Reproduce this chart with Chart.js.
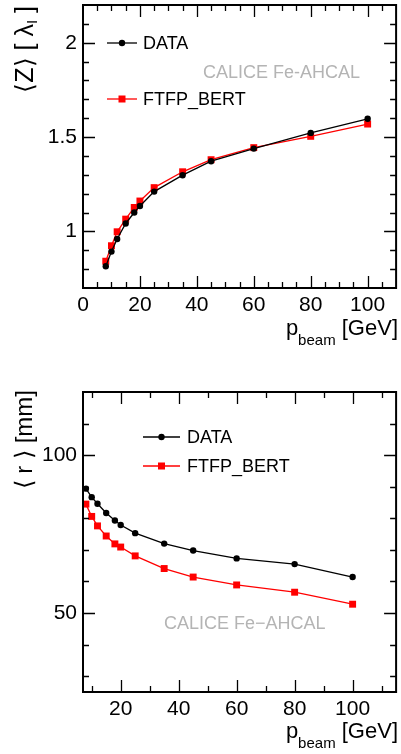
<!DOCTYPE html>
<html>
<head>
<meta charset="utf-8">
<script src="https://cdn.jsdelivr.net/npm/chart.js@4.4.0/dist/chart.umd.min.js"></script>
<style>
  body { margin: 0; background: #fff; }
  .panel { position: absolute; left: 0; width: 401px; height: 377px; }
</style>
</head>
<body>
<div class="panel" style="top:0"><canvas id="zChart" width="401" height="377"></canvas></div>
<div class="panel" style="top:377px"><canvas id="rChart" width="401" height="377"></canvas></div>
<script>
// beam momenta [GeV]
const beamEnergies = [8, 10, 12, 15, 18, 20, 25, 35, 45, 60, 80, 100];

// mean longitudinal depth <Z> [lambda_I]
const zData = [0.815, 0.893, 0.96, 1.042, 1.10, 1.135, 1.211, 1.298, 1.372, 1.439, 1.522, 1.597];
const zSim  = [0.842, 0.924, 0.998, 1.065, 1.127, 1.161, 1.232, 1.316, 1.380, 1.444, 1.504, 1.569];

// mean radius <r> [mm]
const rData = [89.4, 86.7, 84.6, 81.7, 79.3, 77.9, 75.3, 72.0, 69.8, 67.3, 65.5, 61.4];
const rSim  = [84.5, 80.6, 77.6, 74.4, 71.9, 70.9, 68.1, 64.1, 61.4, 58.9, 56.6, 52.8];

// tick labels
const zYTicks = [1, 1.5, 2];
const zXTicks = [0, 20, 40, 60, 80, 100];
const rYTicks = [50, 100];
const rXTicks = [20, 40, 60, 80, 100];

const FONT = '"Liberation Sans", Arial, Helvetica, sans-serif';

function range(from, to, step) {
  const out = [];
  for (let v = from; v <= to + 1e-9; v += step) out.push(Math.round(v * 1000) / 1000);
  return out;
}

function pts(ys) {
  return beamEnergies.map((x, i) => ({x: x, y: ys[i]}));
}

// ROOT style frame with ticks on the inside of all four sides
const frameTicks = {
  id: 'frameTicks',
  afterDraw(chart, args, o) {
    const {ctx, chartArea: a, scales: {x, y}} = chart;
    ctx.save();
    ctx.strokeStyle = '#000';
    ctx.lineWidth = 1.3;
    ctx.beginPath();
    o.xMinor.forEach(v => {
      const len = o.xMajor.includes(v) ? 12 : 6;
      const px = Math.round(x.getPixelForValue(v)) + 0.5;
      if (px <= a.left + 1 || px >= a.right - 1) return;
      ctx.moveTo(px, a.bottom); ctx.lineTo(px, a.bottom - len);
      ctx.moveTo(px, a.top); ctx.lineTo(px, a.top + len);
    });
    o.yMinor.forEach(v => {
      const len = o.yMajor.includes(v) ? 12 : 6;
      const py = Math.round(y.getPixelForValue(v)) + 0.5;
      if (py <= a.top + 1 || py >= a.bottom - 1) return;
      ctx.moveTo(a.left, py); ctx.lineTo(a.left + len, py);
      ctx.moveTo(a.right, py); ctx.lineTo(a.right - len, py);
    });
    ctx.stroke();
    ctx.lineWidth = 2;
    ctx.strokeRect(a.left, a.top, a.right - a.left, a.bottom - a.top);
    ctx.restore();
  }
};

// axis titles, legend and the CALICE label
const decorations = {
  id: 'decorations',
  afterDraw(chart, args, o) {
    const ctx = chart.ctx;
    ctx.save();
    ctx.fillStyle = '#000';
    ctx.textBaseline = 'alphabetic';

    // x title: p_beam [GeV], right aligned
    ctx.font = '22px ' + FONT;
    const wP = ctx.measureText('p').width;
    const wU = ctx.measureText(' [GeV]').width;
    ctx.font = '15px ' + FONT;
    const wS = ctx.measureText('beam').width;
    let xs = o.xTitle.right - (wP + wS + wU);
    ctx.font = '22px ' + FONT;
    ctx.fillText('p', xs, o.xTitle.base);
    ctx.font = '15px ' + FONT;
    ctx.fillText('beam', xs + wP, o.xTitle.base + 10);
    ctx.font = '22px ' + FONT;
    ctx.fillText(' [GeV]', xs + wP + wS, o.xTitle.base);

    // y title, rotated, ending at the top
    ctx.save();
    ctx.translate(o.yTitle.base, o.yTitle.top);
    ctx.rotate(-Math.PI / 2);
    const segs = o.yTitle.parts;
    let total = 0;
    segs.forEach(s => { ctx.font = s.size + 'px ' + FONT; s.w = ctx.measureText(s.t).width; total += s.w; });
    let cx = -total;
    segs.forEach(s => {
      ctx.font = s.size + 'px ' + FONT;
      ctx.fillText(s.t, cx, s.dy || 0);
      cx += s.w;
    });
    ctx.restore();

    // legend
    ctx.font = '18px ' + FONT;
    ctx.textBaseline = 'middle';
    chart.data.datasets.forEach((ds, i) => {
      const ly = o.legend.y[i];
      ctx.strokeStyle = ds.borderColor;
      ctx.lineWidth = ds.borderWidth;
      ctx.beginPath();
      ctx.moveTo(o.legend.x0, ly); ctx.lineTo(o.legend.x1, ly);
      ctx.stroke();
      const mx = (o.legend.x0 + o.legend.x1) / 2;
      ctx.fillStyle = ds.pointBackgroundColor;
      if (ds.pointStyle === 'rect') {
        ctx.fillRect(mx - 3.5, ly - 3.5, 7, 7);
      } else {
        ctx.beginPath(); ctx.arc(mx, ly, ds.pointRadius, 0, Math.PI * 2); ctx.fill();
      }
      ctx.fillStyle = '#000';
      ctx.fillText(ds.label, o.legend.tx, ly + 1);
    });

    // experiment label
    ctx.fillStyle = '#b4b4b4';
    ctx.fillText(o.tag.text, o.tag.x, o.tag.y);
    ctx.restore();
  }
};

function makeChart(id, dData, dSim, cfg) {
  return new Chart(document.getElementById(id), {
    type: 'scatter',
    data: {
      datasets: [
        {
          label: 'DATA', data: pts(dData), showLine: true,
          borderColor: '#000', borderWidth: 1.3,
          pointStyle: 'circle', pointRadius: 3.2,
          pointBackgroundColor: '#000', pointBorderColor: '#000', pointBorderWidth: 0
        },
        {
          label: 'FTFP_BERT', data: pts(dSim), showLine: true,
          borderColor: '#ff0000', borderWidth: 1.3,
          pointStyle: 'rect', pointRadius: 4.9,
          pointBackgroundColor: '#ff0000', pointBorderColor: '#ff0000', pointBorderWidth: 0
        }
      ]
    },
    options: {
      responsive: false,
      animation: false,
      layout: {padding: {left: 0, right: 3, top: cfg.top, bottom: 0}},
      plugins: {
        legend: {display: false},
        tooltip: {enabled: false},
        frameTicks: cfg.ticks,
        decorations: cfg.deco
      },
      scales: {
        x: {
          type: 'linear', min: cfg.xMin, max: cfg.xMax,
          afterBuildTicks: s => { s.ticks = cfg.xTicks.map(v => ({value: v})); },
          afterFit: s => {
            s.height = cfg.xHeight;
            s.paddingLeft = 0; s.paddingRight = 0;
          },
          grid: {display: false, drawTicks: false},
          border: {display: false},
          ticks: {color: '#000', font: {family: FONT, size: 21}, padding: 5, maxRotation: 0,
                  callback: v => String(v)}
        },
        y: {
          type: 'linear', min: cfg.yMin, max: cfg.yMax,
          afterBuildTicks: s => { s.ticks = cfg.yTicks.map(v => ({value: v})); },
          afterFit: s => {
            s.width = 83;
            s.paddingTop = 0; s.paddingBottom = 0;
          },
          grid: {display: false, drawTicks: false},
          border: {display: false},
          ticks: {color: '#000', font: {family: FONT, size: 21}, padding: 6,
                  callback: v => String(v)}
        }
      }
    },
    plugins: [frameTicks, decorations]
  });
}

makeChart('zChart', zData, zSim, {
  top: 5, xHeight: 89,
  xMin: 0, xMax: 110, yMin: 0.7, yMax: 2.2,
  xTicks: zXTicks, yTicks: zYTicks,
  ticks: {xMajor: zXTicks, xMinor: range(5, 105, 5), yMajor: zYTicks, yMinor: range(0.8, 2.1, 0.1)},
  deco: {
    xTitle: {right: 398, base: 335},
    yTitle: {base: 33, top: 6, parts: [
      {t: '\u27E8Z\u27E9 [ \u03BB', size: 25},
      {t: 'I', size: 15, dy: 4},
      {t: ' ]', size: 25}
    ]},
    legend: {x0: 107, x1: 137, tx: 143, y: [43, 99]},
    tag: {text: 'CALICE Fe-AHCAL', x: 203, y: 73}
  }
});

makeChart('rChart', rData, rSim, {
  top: 15, xHeight: 62,
  xMin: 7, xMax: 115, yMin: 25, yMax: 120,
  xTicks: rXTicks, yTicks: rYTicks,
  ticks: {xMajor: rXTicks, xMinor: range(10, 110, 10), yMajor: rYTicks, yMinor: range(30, 110, 10)},
  deco: {
    xTitle: {right: 398, base: 361},
    yTitle: {base: 32, top: 13, parts: [
      {t: '\u27E8 r \u27E9 [mm]', size: 24}
    ]},
    legend: {x0: 143, x1: 180, tx: 187, y: [60, 89]},
    tag: {text: 'CALICE Fe\u2212AHCAL', x: 164, y: 247}
  }
});
</script>
</body>
</html>
